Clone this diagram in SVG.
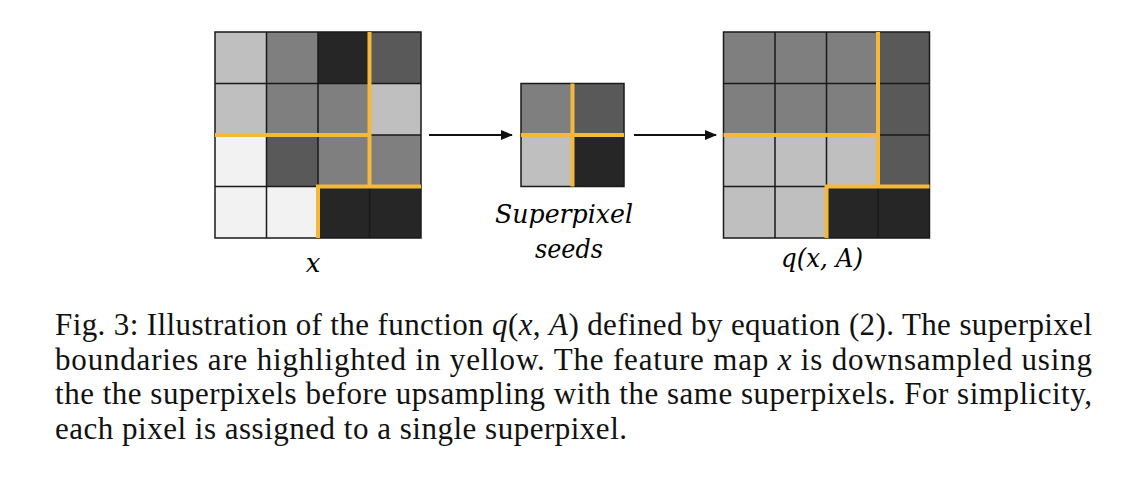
<svg xmlns="http://www.w3.org/2000/svg" width="1148" height="479" viewBox="0 0 1148 479">
  <style>
    .c1 { fill: #F2F2F2; }
    .c2 { fill: #BFBFBF; }
    .c3 { fill: #7F7F7F; }
    .c4 { fill: #595959; }
    .c5 { fill: #262626; }
    .grid { fill: none; stroke: #1a1a1a; stroke-width: 1.5; }
    .sp { fill: none; stroke: #F4B93A; stroke-width: 4; stroke-linecap: square; }
    .lbl { font-family: "DejaVu Serif", "Liberation Serif", serif; font-style: italic; font-size: 26px; fill: #000; }
    .cap { font-family: "Liberation Serif", "Times New Roman", serif; font-size: 31px; fill: #111; }
    .m { font-style: italic; }
    .arrow { stroke: #111; stroke-width: 2; fill: none; }
  </style>
  <defs>
    <marker id="ah" markerWidth="12" markerHeight="10" refX="11" refY="5" orient="auto" markerUnits="userSpaceOnUse">
      <path d="M0,0 L12,5 L0,10 Z" fill="#111"/>
    </marker>
  </defs>
  <rect width="1148" height="479" fill="#ffffff"/>

  <g id="node-x">
    <rect class="c2" x="215" y="32" width="51.5" height="51.5"/>
    <rect class="c3" x="266.5" y="32" width="51.5" height="51.5"/>
    <rect class="c5" x="318" y="32" width="51.5" height="51.5"/>
    <rect class="c4" x="369.5" y="32" width="51.5" height="51.5"/>
    <rect class="c2" x="215" y="83.5" width="51.5" height="51.5"/>
    <rect class="c3" x="266.5" y="83.5" width="51.5" height="51.5"/>
    <rect class="c3" x="318" y="83.5" width="51.5" height="51.5"/>
    <rect class="c2" x="369.5" y="83.5" width="51.5" height="51.5"/>
    <rect class="c1" x="215" y="135" width="51.5" height="51.5"/>
    <rect class="c4" x="266.5" y="135" width="51.5" height="51.5"/>
    <rect class="c3" x="318" y="135" width="51.5" height="51.5"/>
    <rect class="c3" x="369.5" y="135" width="51.5" height="51.5"/>
    <rect class="c1" x="215" y="186.5" width="51.5" height="51.5"/>
    <rect class="c1" x="266.5" y="186.5" width="51.5" height="51.5"/>
    <rect class="c5" x="318" y="186.5" width="51.5" height="51.5"/>
    <rect class="c5" x="369.5" y="186.5" width="51.5" height="51.5"/>
    <path class="grid" d="M215,32 H421 V238 H215 Z M266.5,32 V238 M318,32 V238 M369.5,32 V238 M215,83.5 H421 M215,135 H421 M215,186.5 H421"/>
    <path class="sp" d="M369.5,34 V186.5 M217,135 H369.5 M318,186.5 H419 M318,186.5 V236"/>
    <text class="lbl" x="313" y="272" text-anchor="middle">x</text>
  </g>

  <g id="node-seeds">
    <rect class="c3" x="521" y="83.5" width="51.5" height="51.5"/>
    <rect class="c4" x="572.5" y="83.5" width="51.5" height="51.5"/>
    <rect class="c2" x="521" y="135" width="51.5" height="51.5"/>
    <rect class="c5" x="572.5" y="135" width="51.5" height="51.5"/>
    <rect class="grid" x="521" y="83.5" width="103" height="103"/>
    <path class="sp" d="M572.5,85.5 V184.5 M523,135 H622"/>
    <text class="lbl" x="564" y="223" text-anchor="middle" textLength="138" lengthAdjust="spacingAndGlyphs">Superpixel</text>
    <text class="lbl" x="569" y="258" text-anchor="middle" textLength="68" lengthAdjust="spacingAndGlyphs">seeds</text>
  </g>

  <g id="node-q">
    <rect class="c3" x="723.5" y="32" width="51.5" height="51.5"/>
    <rect class="c3" x="775" y="32" width="51.5" height="51.5"/>
    <rect class="c3" x="826.5" y="32" width="51.5" height="51.5"/>
    <rect class="c4" x="878" y="32" width="51.5" height="51.5"/>
    <rect class="c3" x="723.5" y="83.5" width="51.5" height="51.5"/>
    <rect class="c3" x="775" y="83.5" width="51.5" height="51.5"/>
    <rect class="c3" x="826.5" y="83.5" width="51.5" height="51.5"/>
    <rect class="c4" x="878" y="83.5" width="51.5" height="51.5"/>
    <rect class="c2" x="723.5" y="135" width="51.5" height="51.5"/>
    <rect class="c2" x="775" y="135" width="51.5" height="51.5"/>
    <rect class="c2" x="826.5" y="135" width="51.5" height="51.5"/>
    <rect class="c4" x="878" y="135" width="51.5" height="51.5"/>
    <rect class="c2" x="723.5" y="186.5" width="51.5" height="51.5"/>
    <rect class="c2" x="775" y="186.5" width="51.5" height="51.5"/>
    <rect class="c5" x="826.5" y="186.5" width="51.5" height="51.5"/>
    <rect class="c5" x="878" y="186.5" width="51.5" height="51.5"/>
    <path class="grid" d="M723.5,32 H929.5 V238 H723.5 Z M775,32 V238 M826.5,32 V238 M878,32 V238 M723.5,83.5 H929.5 M723.5,135 H929.5 M723.5,186.5 H929.5"/>
    <path class="sp" d="M878,34 V186.5 M725.5,135 H878 M826.5,186.5 H927.5 M826.5,186.5 V236"/>
    <text class="lbl" x="822" y="267" text-anchor="middle" textLength="82" lengthAdjust="spacingAndGlyphs">q(x, A)</text>
  </g>

  <g id="connectors">
    <line class="arrow" x1="429" y1="135" x2="512" y2="135" marker-end="url(#ah)"/>
    <line class="arrow" x1="634" y1="135" x2="716" y2="135" marker-end="url(#ah)"/>
  </g>

  <g id="caption">
    <text class="cap" x="55" y="335" textLength="1037" lengthAdjust="spacing">Fig. 3: Illustration of the function <tspan class="m">q</tspan>(<tspan class="m">x</tspan>, <tspan class="m">A</tspan>) defined by equation (2). The superpixel</text>
    <text class="cap" x="55" y="369.5" textLength="1037" lengthAdjust="spacing">boundaries are highlighted in yellow. The feature map <tspan class="m">x</tspan> is downsampled using</text>
    <text class="cap" x="55" y="404" textLength="1037" lengthAdjust="spacing">the the superpixels before upsampling with the same superpixels. For simplicity,</text>
    <text class="cap" x="55" y="438.5" textLength="572" lengthAdjust="spacing">each pixel is assigned to a single superpixel.</text>
  </g>
</svg>
